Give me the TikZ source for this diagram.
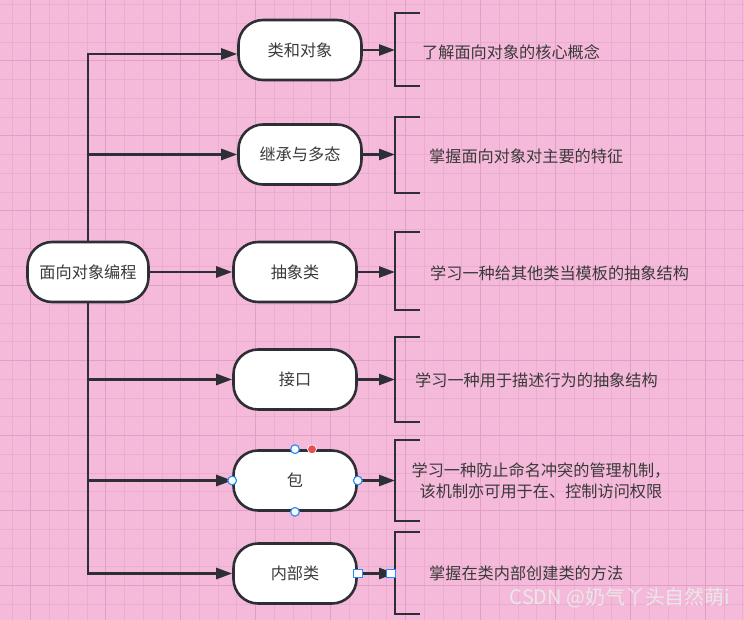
\documentclass[tikz,border=0pt]{standalone}
\usepackage{fontspec}
\setmainfont{Noto Sans CJK SC}
\usepackage{tikz}
\usetikzlibrary{arrows.meta,positioning}
\usepackage{xcolor}
\definecolor{pinkbg}{RGB}{245,185,218}
\definecolor{pinkminor}{RGB}{234,172,207}
\definecolor{pinkmajor}{RGB}{224,160,197}
\definecolor{linecol}{RGB}{45,47,52}
\definecolor{textcol}{RGB}{58,58,58}
\definecolor{handleblue}{RGB}{40,140,250}
\definecolor{handlered}{RGB}{230,80,80}
\newcommand{\diagfont}{\fontsize{13.8pt}{18pt}\selectfont}

\begin{document}
\begin{tikzpicture}[x=0.03cm, y=-0.03cm,
    >={Triangle[length=0.48cm,width=0.33cm]},
    topic/.style={rectangle, draw=linecol, line width=2.2pt, fill=white, rounded corners=0.74cm, minimum width=3.69cm, minimum height=1.8cm, font=\diagfont, text=textcol},
    note/.style={font=\diagfont, text=textcol, inner sep=0pt, anchor=west},
    link/.style={->, line width=2.2pt, draw=linecol},
    bracket/.style={line width=2.2pt, draw=linecol},
    handle/.style={circle, draw=handleblue, fill=white, line width=1pt, minimum size=0.26cm, inner sep=0pt},
    handlesq/.style={rectangle, draw=handleblue, fill=white, line width=1pt, minimum size=0.26cm, inner sep=0pt}]

    % Background and grid
    \fill[pinkbg] (0,0) rectangle (744,620);
    \useasboundingbox (0,0) rectangle (744,620);
    \foreach \i in {0,...,40} \draw[pinkminor, line width=0.6pt] ({-6.78+18.74*\i},0) -- ({-6.78+18.74*\i},620);
    \foreach \i in {0,...,33} \draw[pinkminor, line width=0.6pt] (0,{4.48+18.74*\i}) -- (744,{4.48+18.74*\i});
    \foreach \i in {0,...,9} \draw[pinkmajor, line width=0.7pt] ({30.7+74.96*\i},0) -- ({30.7+74.96*\i},620);
    \foreach \i in {0,...,7} \draw[pinkmajor, line width=0.7pt] (0,{60.7+74.96*\i}) -- (744,{60.7+74.96*\i});

    % Main topic
    \node[topic, minimum width=3.63cm] (oop) at (88,272) {面向对象编程};

    % Sub topics
    \node[topic] (cls) at (300,50) {类和对象};
    \node[topic] (inh) at (300,154.5) {继承与多态};
    \node[topic] (abs) at (295,272) {抽象类};
    \node[topic] (ifc) at (295,379.5) {接口};
    \node[topic] (pkg) at (295,480.5) {包};
    \node[topic] (inner) at (295,573.5) {内部类};

    % Bracket ends
    \coordinate (b1) at (395,50);
    \coordinate (b2) at (395,154.5);
    \coordinate (b3) at (395,272);
    \coordinate (b4) at (395,379.5);
    \coordinate (b5) at (395,480.5);
    \coordinate (b6) at (395,573.5);

    % Brackets
    \draw[bracket] (420,13) -- (395,13) -- (395,86) -- (420,86);
    \draw[bracket] (420,117) -- (395,117) -- (395,193) -- (420,193);
    \draw[bracket] (420,232) -- (395,232) -- (395,310) -- (420,310);
    \draw[bracket] (420,337) -- (395,337) -- (395,422) -- (420,422);
    \draw[bracket] (420,440) -- (395,440) -- (395,521) -- (420,521);
    \draw[bracket] (420,532) -- (395,532) -- (395,614) -- (420,614);

    % Notes
    \node[note] (t1) at (422,52) {了解面向对象的核心概念};
    \node[note] (t2) at (429,156) {掌握面向对象对主要的特征};
    \node[note] (t3) at (430,273) {学习一种给其他类当模板的抽象结构};
    \node[note] (t4) at (415,380) {学习一种用于描述行为的抽象结构};
    \node[note, anchor=center, align=center] (t5) at (541,481) {学习一种防止命名冲突的管理机制，\\该机制亦可用于在、控制访问权限};
    \node[note] (t6) at (429,573.5) {掌握在类内部创建类的方法};

    % Arrows
    \draw[link] (oop.north) |- ([yshift=-0.12cm]cls.west);
    \draw[link] (oop.north) |- (inh.west);
    \draw[link] (oop) -- (abs);
    \draw[link] (oop.south) |- (ifc.west);
    \draw[link] (oop.south) |- (pkg.west);
    \draw[link] (oop.south) |- (inner.west);
    \draw[link] (cls) -- (b1);
    \draw[link] (inh) -- (b2);
    \draw[link] (abs) -- (b3);
    \draw[link] (ifc) -- (b4);
    \draw[link] (pkg) -- (b5);
    \draw[link] (inner) -- (b6);

    % Selection handles
    \node[handle] (hn) at (pkg.north) {};
    \node[handle] (hs) at (pkg.south) {};
    \node[handle] (hw) at (pkg.west) {};
    \node[handle] (he) at (pkg.east) {};
    \node[circle, fill=handlered, draw=white, line width=0.6pt, minimum size=0.27cm, inner sep=0pt] (hr) at ([xshift=0.51cm]pkg.north) {};
    \node[handlesq] (sq1) at (inner.east) {};
    \node[handlesq] (sq2) at ([xshift=-0.12cm]b6) {};

    % Watermark
    \node[font=\fontsize{17pt}{20pt}\selectfont, text={rgb,255:red,232;green,232;blue,232}, inner sep=0pt] (wm) at (620,598) {CSDN @奶气丫头自然萌i};
\end{tikzpicture}
\end{document}
